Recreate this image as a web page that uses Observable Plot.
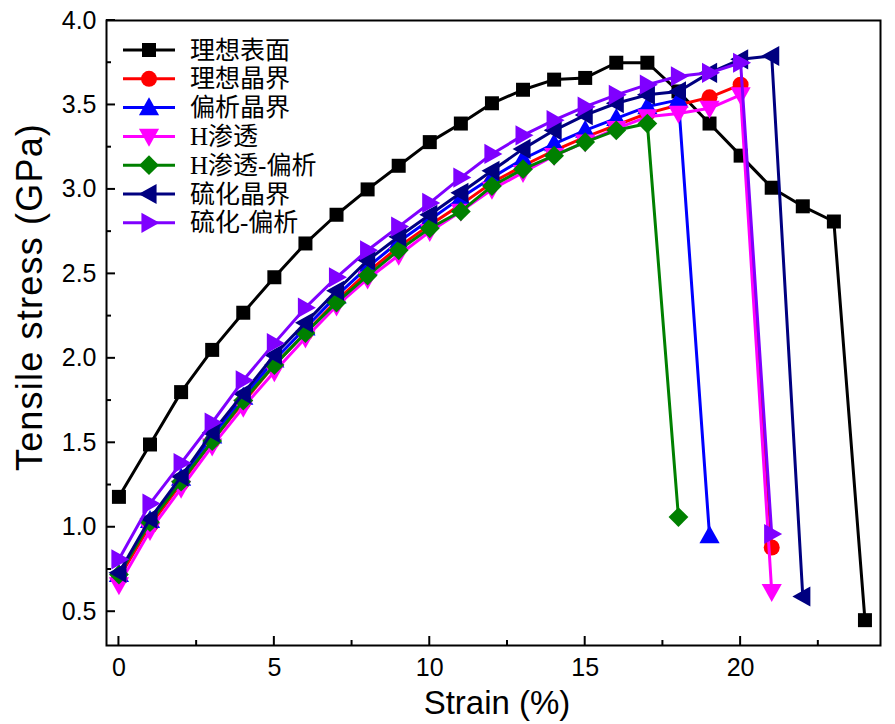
<!DOCTYPE html>
<html><head><meta charset="utf-8">
<script src="https://cdn.jsdelivr.net/npm/d3@7"></script>
<script src="https://cdn.jsdelivr.net/npm/@observablehq/plot@0.6"></script>
<style>body{margin:0;background:#fff} #chart{width:895px;height:724px}</style>
</head><body><div id="chart"></div>
<script>
// ---- data ----
const strain = [0,1,2,3,4,5,6,7,8,9,10,11,12,13,14,15,16,17,18,19,20,21,22,23,24];
const seriesNames = ["理想表面","理想晶界","偏析晶界","H渗透","H渗透-偏析","硫化晶界","硫化-偏析"];
const seriesColors = ["#000000","#ff0000","#0000ff","#ff00ff","#008000","#000080","#7f00ff"];
const stressIdealSurface = [1.18,1.49,1.80,2.05,2.27,2.48,2.68,2.85,3.00,3.14,3.28,3.39,3.51,3.59,3.65,3.66,3.75,3.75,3.58,3.39,3.20,3.01,2.90,2.81,0.45];
const stressIdealGB = [0.70,1.01,1.26,1.51,1.74,1.96,2.15,2.34,2.51,2.66,2.79,2.91,3.04,3.14,3.23,3.31,3.38,3.45,3.50,3.545,3.62,0.88];
const stressSegGB = [0.72,1.04,1.29,1.54,1.77,1.99,2.18,2.37,2.54,2.69,2.82,2.95,3.07,3.18,3.27,3.35,3.42,3.49,3.53,0.95];
const stressH = [0.66,0.98,1.23,1.48,1.71,1.92,2.12,2.31,2.47,2.61,2.75,2.87,3.00,3.10,3.20,3.28,3.36,3.43,3.45,3.48,3.56,0.62];
const stressHSeg = [0.72,1.03,1.27,1.51,1.75,1.96,2.15,2.33,2.49,2.64,2.77,2.87,3.02,3.12,3.20,3.28,3.35,3.39,1.06];
const stressSGB = [0.73,1.05,1.30,1.56,1.79,2.02,2.21,2.40,2.58,2.72,2.85,2.98,3.11,3.24,3.35,3.44,3.51,3.56,3.58,3.69,3.77,3.79,0.59];
const stressSSeg = [0.81,1.14,1.38,1.62,1.87,2.09,2.30,2.48,2.64,2.78,2.92,3.07,3.21,3.32,3.41,3.49,3.56,3.62,3.67,3.69,3.75,0.96];
const xTicks = [0,5,10,15,20];
const xMinorTicks = [2.5,7.5,12.5,17.5,22.5];
const yTicks = [0.5,1.0,1.5,2.0,2.5,3.0,3.5,4.0];
const yMinorTicks = [0.75,1.25,1.75,2.25,2.75,3.25,3.75];
const xLabel = "Strain (%)";
const yLabel = "Tensile stress (GPa)";

// ---- symbols (s = nominal size in px) ----
const mk = f => ({draw(ctx, size){ const s = Math.sqrt(size); f(ctx, s); }});
const poly = (ctx, pts) => { ctx.moveTo(pts[0][0], pts[0][1]); for (const p of pts.slice(1)) ctx.lineTo(p[0], p[1]); ctx.closePath(); };
const symSquare = mk((c,s)=>poly(c,[[-s/2,-s/2],[s/2,-s/2],[s/2,s/2],[-s/2,s/2]]));
const symCircle = mk((c,s)=>{c.moveTo(s/2,0); c.arc(0,0,s/2,0,2*Math.PI); c.closePath();});
const symUp = mk((c,s)=>poly(c,[[0,-0.58*s],[0.56*s,0.42*s],[-0.56*s,0.42*s]]));
const symDown = mk((c,s)=>poly(c,[[0,0.58*s],[0.56*s,-0.42*s],[-0.56*s,-0.42*s]]));
const symLeft = mk((c,s)=>poly(c,[[-0.58*s,0],[0.42*s,-0.56*s],[0.42*s,0.56*s]]));
const symRight = mk((c,s)=>poly(c,[[0.58*s,0],[-0.42*s,-0.56*s],[-0.42*s,0.56*s]]));
const symDiamond = mk((c,s)=>poly(c,[[0,-0.55*s],[0.55*s,0],[0,0.55*s],[-0.55*s,0]]));
const seriesSymbols = [symSquare, symCircle, symUp, symDown, symDiamond, symLeft, symRight];
const seriesSizes = [14, 16, 18, 18, 18, 18, 18];
const seriesValues = [stressIdealSurface, stressIdealGB, stressSegGB, stressH, stressHSeg, stressSGB, stressSSeg];

const series = seriesNames.map((name, i) => ({
  name, color: seriesColors[i], symbol: seriesSymbols[i], size: seriesSizes[i],
  rows: seriesValues[i].map((v, j) => ({strain: strain[j], stress: v}))
}));

const marks = [];
for (const s of series) {
  marks.push(Plot.line(s.rows, {x: "strain", y: "stress", stroke: s.color, strokeWidth: 3}));
  marks.push(Plot.dot(s.rows, {x: "strain", y: "stress", symbol: s.symbol, r: s.size / Math.sqrt(Math.PI), fill: s.color, stroke: "none"}));
}

const W = 895, H = 724, mL = 106, mR = 15, mT = 20, mB = 79;
const chart = Plot.plot({
  width: W, height: H,
  marginLeft: mL, marginRight: mR, marginTop: mT, marginBottom: mB,
  style: {fontFamily: "'Liberation Sans', Arial, sans-serif", background: "white", color: "black", overflow: "visible"},
  x: {domain: [-0.4, 24.5]},
  y: {domain: [0.3, 4.0]},
  marks: [
    Plot.axisX(xTicks, {tickSize: 0, tickPadding: 13, fontSize: 25, label: null, tickFormat: d => String(d)}),
    Plot.axisY(yTicks, {tickSize: 0, tickPadding: 10, fontSize: 25, label: null, tickFormat: d3.format(".1f")}),
    ...marks,
    Plot.frame({stroke: "black", strokeWidth: 2})
  ]
});

const svg = d3.select(chart);
const xs = chart.scale("x"), ys = chart.scale("y");
const bottom = H - mB;
// inward ticks on bottom and left
const tg = svg.append("g").attr("stroke", "black").attr("stroke-width", 2);
xTicks.forEach(v => tg.append("line").attr("x1", xs.apply(v)).attr("x2", xs.apply(v)).attr("y1", bottom).attr("y2", bottom - 9));
xMinorTicks.forEach(v => tg.append("line").attr("x1", xs.apply(v)).attr("x2", xs.apply(v)).attr("y1", bottom).attr("y2", bottom - 5));
yTicks.forEach(v => tg.append("line").attr("y1", ys.apply(v)).attr("y2", ys.apply(v)).attr("x1", mL).attr("x2", mL + 9));
yMinorTicks.forEach(v => tg.append("line").attr("y1", ys.apply(v)).attr("y2", ys.apply(v)).attr("x1", mL).attr("x2", mL + 5));

svg.append("text").attr("x", 497).attr("y", 702).attr("text-anchor", "middle").attr("dominant-baseline", "central")
  .style("font-size", "33px").style("font-family", "'Liberation Sans', Arial, sans-serif").text(xLabel);
svg.append("text").attr("transform", "translate(29,297) rotate(-90)").attr("text-anchor", "middle").attr("dominant-baseline", "central")
  .style("font-size", "36px").style("letter-spacing", "1.2px").style("font-family", "'Liberation Sans', Arial, sans-serif").text(yLabel);

// legend
const lg = svg.append("g");
series.forEach((s, i) => {
  const y = 50 + i * 28.8;
  lg.append("line").attr("x1", 123).attr("x2", 175).attr("y1", y).attr("y2", y).attr("stroke", s.color).attr("stroke-width", 3);
  lg.append("path").attr("transform", `translate(149,${y})`).attr("d", d3.symbol(s.symbol, s.size * s.size)()).attr("fill", s.color);
  lg.append("text").attr("x", 190).attr("y", y).attr("text-anchor", "start").attr("dominant-baseline", "central")
    .style("font-size", "25px").style("font-family", "'Liberation Serif', 'Noto Sans CJK SC', serif").text(s.name);
});

document.getElementById("chart").appendChild(chart);
</script>
</body></html>
